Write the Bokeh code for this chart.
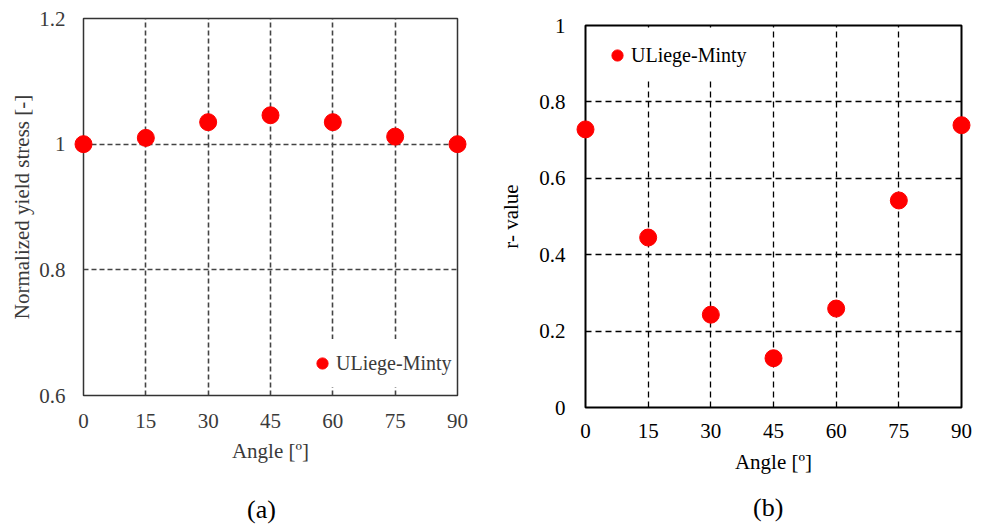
from bokeh.plotting import figure
from bokeh.layouts import row, column
from bokeh.models import Range1d, FixedTicker, Legend, LegendItem, Div
from bokeh.embed import file_html
from bokeh.resources import INLINE

# ---- data ----
angles = [0, 15, 30, 45, 60, 75, 90]
norm_yield_stress = [1.000, 1.010, 1.035, 1.046, 1.035, 1.012, 1.000]
r_values = [0.728, 0.445, 0.243, 0.129, 0.259, 0.542, 0.739]

x_ticks = [0, 15, 30, 45, 60, 75, 90]
ya_ticks = [0.6, 0.8, 1.0, 1.2]
ya_labels = ["0.6", "0.8", "1", "1.2"]
yb_ticks = [0.0, 0.2, 0.4, 0.6, 0.8, 1.0]
yb_labels = ["0", "0.2", "0.4", "0.6", "0.8", "1"]

series_name = "ULiege-Minty"
x_title = "Angle [º]"
ya_title = "Normalized yield stress [-]"
yb_title = "r- value"
panel_a = "(a)"
panel_b = "(b)"

FONT = "Liberation Serif"
W, H, CAP_H = 493, 490, 41


def make_panel(yvals, yticks, ylabels, ytitle, yr, cfg):
    p = figure(width=W, height=H, output_backend="svg", toolbar_location=None,
               x_range=Range1d(0, 90), y_range=Range1d(*yr),
               min_border_left=cfg["bl"], min_border_right=cfg["br"],
               min_border_top=cfg["bt"], min_border_bottom=cfg["bb"])
    p.background_fill_color = "white"
    p.border_fill_color = "white"
    p.outline_line_color = cfg["outline"]
    p.outline_line_width = cfg["outline_w"]

    p.xaxis.ticker = FixedTicker(ticks=x_ticks)
    p.yaxis.ticker = FixedTicker(ticks=yticks)
    p.yaxis.major_label_overrides = {t: l for t, l in zip(yticks, ylabels)}
    for ax in (p.xaxis[0], p.yaxis[0]):
        ax.axis_line_color = None
        ax.major_tick_line_color = None
        ax.minor_tick_line_color = None
        ax.major_tick_out = 0
        ax.major_tick_in = 0
        ax.major_label_text_font = FONT
        ax.major_label_text_font_size = cfg["tick_fs"]
        ax.major_label_text_color = cfg["text"]
        ax.axis_label_text_font = FONT
        ax.axis_label_text_font_size = cfg["title_fs"]
        ax.axis_label_text_font_style = "normal"
        ax.axis_label_text_color = cfg["text"]
    p.xaxis.axis_label = x_title
    p.yaxis.axis_label = ytitle
    p.xaxis.major_label_standoff = cfg["x_std"]
    p.xaxis.axis_label_standoff = cfg["x_tstd"]
    p.yaxis.major_label_standoff = cfg["y_std"]
    p.yaxis.axis_label_standoff = cfg["y_tstd"]

    for g in (p.xgrid[0], p.ygrid[0]):
        g.grid_line_color = cfg["grid"]
        g.grid_line_width = cfg["grid_w"]
        g.grid_line_dash = cfg["dash"]
    p.xgrid.ticker = FixedTicker(ticks=x_ticks)
    p.ygrid.ticker = FixedTicker(ticks=yticks)

    r = p.scatter(angles, yvals, size=17, fill_color="#FF0000", line_color="#FF0000",
                  level="overlay")

    leg = Legend(items=[LegendItem(label=series_name, renderers=[r])],
                 location=cfg["leg_loc"], margin=0, padding=6, spacing=0,
                 glyph_width=28, glyph_height=48, label_standoff=-5,
                 background_fill_color="white", background_fill_alpha=1.0,
                 border_line_color=None,
                 label_text_font=FONT, label_text_font_size="20px",
                 label_text_color=cfg["text"])
    p.add_layout(leg)
    return p


def caption(text, pad_left, pad_top):
    html = ('<div style="padding-left:%dpx;padding-top:%dpx;'
            'font-family:\'Liberation Serif\';font-size:26px;line-height:30px;'
            'color:black;white-space:nowrap;">%s</div>' % (pad_left, pad_top, text))
    return Div(text=html, width=W, height=CAP_H, margin=0)


cfg_a = dict(bl=83, br=36, bt=18, bb=H - 395, outline="#333333", outline_w=1.5,
             tick_fs="21px", title_fs="21px", text="#3a3a3a",
             x_std=18, x_tstd=8, y_std=18, y_tstd=2,
             grid="#444444", grid_w=1.6, dash="5 3", leg_loc=(225, 8))
cfg_b = dict(bl=92, br=25, bt=25, bb=H - 407, outline="black", outline_w=2,
             tick_fs="21px", title_fs="21px", text="black",
             x_std=16, x_tstd=9, y_std=20, y_tstd=13,
             grid="black", grid_w=1.3, dash="6 4", leg_loc=(18, 328))

pa = make_panel(norm_yield_stress, ya_ticks, ya_labels, ya_title, (0.6, 1.2), cfg_a)
pb = make_panel(r_values, yb_ticks, yb_labels, yb_title, (0.0, 1.0), cfg_b)
ca = caption(panel_a, 247, 5)
cb = caption(panel_b, 260, 3)

layout = row(column(pa, ca, spacing=0), column(pb, cb, spacing=0), spacing=0)
open("out.html", "w").write(file_html(layout, INLINE))
